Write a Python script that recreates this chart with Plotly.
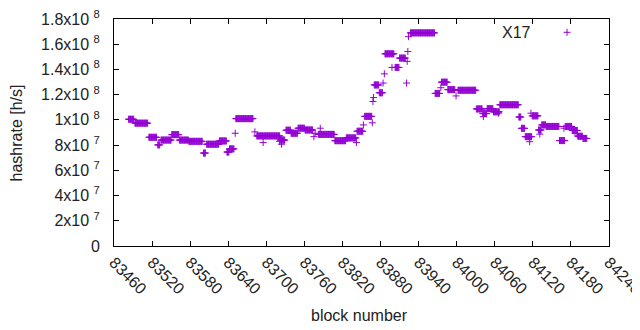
import plotly.graph_objects as go

# Runs of consecutive blocks sharing the same estimated hashrate
run_first = [83483, 83493, 83515, 83529, 83534, 83551, 83563, 83578, 83601, 83606,
             83626, 83638, 83642, 83651, 83652, 83682, 83685, 83695, 83721, 83722,
             83724, 83731, 83739, 83750, 83761, 83775, 83777, 83782, 83785, 83808,
             83826, 83842, 83843, 83853, 83855, 83867, 83868, 83869, 83870, 83878,
             83884, 83886, 83887, 83898, 83903, 83910, 83921, 83922, 83923, 83924,
             83927, 83966, 83975, 83976, 83986, 83999, 84002, 84031, 84041, 84042,
             84048, 84058, 84066, 84068, 84098, 84102, 84108, 84115, 84117, 84119,
             84129, 84131, 84134, 84141, 84162, 84169, 84171, 84182, 84190, 84191,
             84199]
run_last = [83491, 83513, 83527, 83532, 83550, 83562, 83577, 83599, 83604, 83625,
            83637, 83641, 83649, 83651, 83679, 83682, 83721, 83695, 83721, 83729,
            83724, 83738, 83749, 83760, 83773, 83775, 83777, 83807, 83785, 83825,
            83841, 83842, 83852, 83853, 83866, 83867, 83868, 83869, 83877, 83883,
            83884, 83886, 83901, 83898, 83909, 83919, 83921, 83922, 83923, 83924,
            83965, 83973, 83975, 83985, 83997, 83999, 84030, 84040, 84047, 84042,
            84057, 84067, 84066, 84097, 84101, 84107, 84118, 84115, 84117, 84128,
            84133, 84131, 84140, 84161, 84170, 84169, 84181, 84190, 84190, 84198,
            84205]
run_hashrate_millions = [100.5, 97.4, 86.2, 80.2, 84.0, 88.3, 84.0, 83.0, 73.7, 80.7,
                         83.3, 74.5, 77.0, 89.4, 101.0, 90.5, 87.3, 82.0, 83.0, 84.0,
                         80.7, 91.8, 89.4, 93.4, 92.0, 86.7, 89.4, 88.5, 93.4, 83.5,
                         85.7, 82.0, 91.0, 96.0, 102.8, 97.7, 114.6, 117.7, 127.7, 121.5,
                         129.2, 136.5, 152.4, 141.6, 141.6, 149.0, 129.2, 146.4, 154.2, 166.0,
                         169.0, 121.0, 125.5, 129.9, 124.0, 119.0, 123.5, 108.7, 105.0, 102.6,
                         108.9, 106.4, 105.3, 112.0, 102.3, 93.3, 86.7, 82.7, 105.3, 103.2,
                         92.0, 88.7, 96.0, 94.8, 83.6, 93.4, 94.8, 91.6, 88.0, 87.0,
                         85.3]

x_tick_values = [83460, 83520, 83580, 83640, 83700, 83760, 83820, 83880, 83940,
                 84000, 84060, 84120, 84180, 84240]
x_tick_labels = ["83460", "83520", "83580", "83640", "83700", "83760", "83820",
                 "83880", "83940", "84000", "84060", "84120", "84180", "84240"]
y_tick_values = [0, 2e7, 4e7, 6e7, 8e7, 1e8, 1.2e8, 1.4e8, 1.6e8, 1.8e8]
y_tick_labels = ["0", "2x10\u00a0<sup>7</sup>", "4x10\u00a0<sup>7</sup>", "6x10\u00a0<sup>7</sup>",
                 "8x10\u00a0<sup>7</sup>", "1x10\u00a0<sup>8</sup>", "1.2x10\u00a0<sup>8</sup>",
                 "1.4x10\u00a0<sup>8</sup>", "1.6x10\u00a0<sup>8</sup>", "1.8x10\u00a0<sup>8</sup>"]
series_name = "X17"

blocks, rates = [], []
for f, l, v in zip(run_first, run_last, run_hashrate_millions):
    for b in range(f, l + 1):
        blocks.append(b)
        rates.append(v * 1e6)

COLOR = "#9400D3"
FONT = "Liberation Sans, Arial, sans-serif"
TXT = "#222222"

fig = go.Figure()
fig.add_trace(go.Scatter(
    x=blocks, y=rates, mode="markers", name=series_name, showlegend=False,
    marker=dict(symbol="cross-thin", size=5, color=COLOR,
                line=dict(color=COLOR, width=1)),
))

axis_common = dict(showline=True, linecolor="black", linewidth=1, mirror="allticks",
                   ticks="inside", ticklen=5, tickcolor="black", showgrid=False,
                   zeroline=False, automargin=False, ticklabeloverflow="allow",
                   tickfont=dict(family=FONT, size=16, color=TXT))

fig.update_xaxes(range=[83460, 84240], tickvals=x_tick_values, ticktext=x_tick_labels,
                 tickangle=45, **axis_common)
fig.update_yaxes(range=[0, 1.8e8], tickvals=y_tick_values, ticktext=y_tick_labels,
                 ticklabelstandoff=10, **axis_common)

# the page body adds an 8px offset; size the figure so the plot area lands where the reference's does
fig.update_layout(
    width=632, height=322,
    margin=dict(l=106, r=31, t=11, b=84),
    paper_bgcolor="white", plot_bgcolor="white",
    font=dict(family=FONT, size=16, color=TXT),
    annotations=[
        dict(text="hashrate [h/s]", xref="paper", yref="paper", x=-0.196, y=0.5,
             textangle=-90, showarrow=False, xanchor="center", yanchor="middle",
             font=dict(family=FONT, size=16, color=TXT)),
        dict(text="block number", xref="paper", yref="paper", x=0.495, y=-0.308,
             showarrow=False, xanchor="center", yanchor="middle",
             font=dict(family=FONT, size=16, color=TXT)),
        dict(text=series_name, xref="paper", yref="paper", x=0.8465, y=0.9414,
             showarrow=False, xanchor="right", yanchor="middle",
             font=dict(family=FONT, size=16, color=TXT)),
    ],
    shapes=[
        dict(type="line", xref="paper", yref="paper", x0=0.9082, x1=0.9222,
             y0=0.9414, y1=0.9414, line=dict(color=COLOR, width=1)),
        dict(type="line", xref="paper", yref="paper", x0=0.9152, x1=0.9152,
             y0=0.926, y1=0.9568, line=dict(color=COLOR, width=1)),
    ],
)

fig.write_html("out.html")
